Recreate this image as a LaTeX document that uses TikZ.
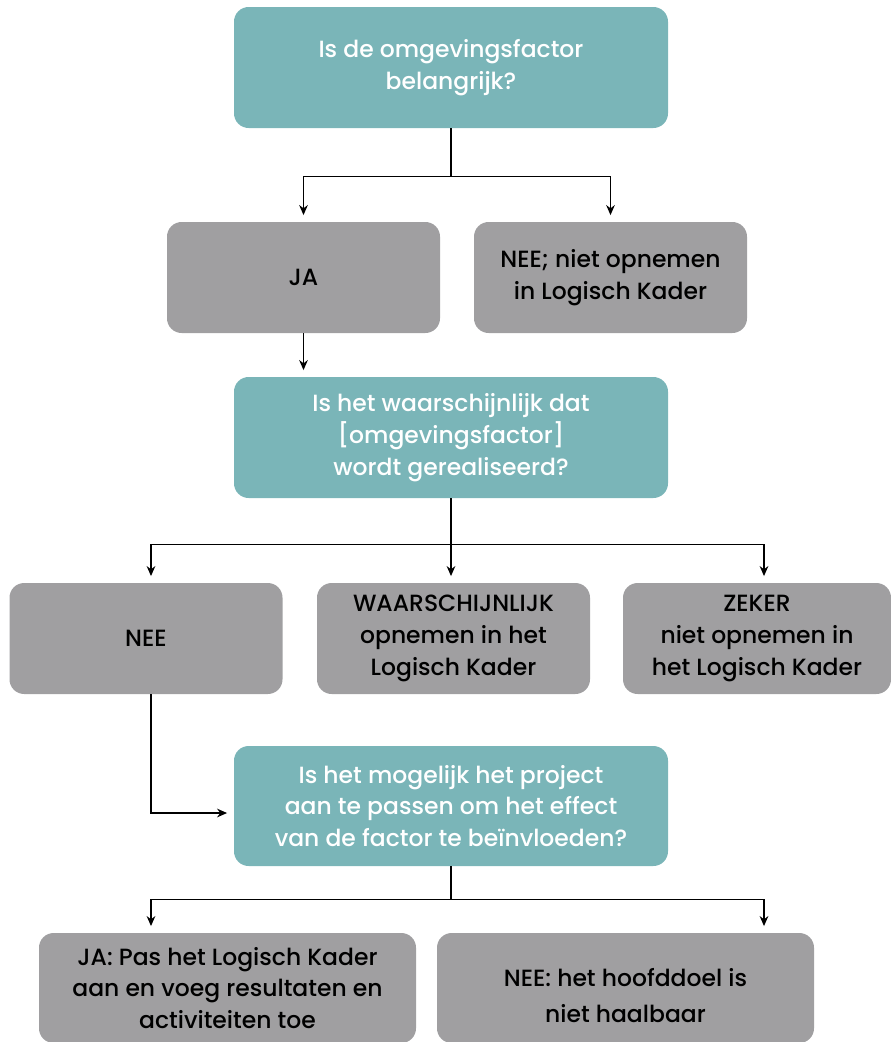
\documentclass[tikz,border=0pt]{standalone}
\usepackage{fontspec}
\setmainfont{Poppins}[UprightFont={* Medium}]
\usetikzlibrary{arrows.meta}
\definecolor{boxteal}{HTML}{7AB5B8}
\definecolor{boxgray}{HTML}{A09FA1}
\begin{document}
\begin{tikzpicture}[x=0.75pt,y=-0.75pt,
  box/.style={rounded corners=11pt, inner sep=0pt, align=center,
    font=\fontsize{17.6}{23.8}\selectfont},
  question/.style={box, fill=boxteal, text=white,
    minimum width=325.5pt, minimum height=90.75pt},
  answer/.style={box, fill=boxgray, text=black},
  small/.style={minimum width=204.75pt, minimum height=83.25pt},
  wide/.style={minimum width=282.75pt, minimum height=82.5pt},
  line/.style={line width=1pt},
  link/.style={line, -{Stealth[length=7.5pt,width=6.5pt]}, shorten >=5pt}]
\useasboundingbox (0,0) rectangle (890,1042);

% column guides for the outer arrows
\coordinate (colL) at (151,0);
\coordinate (colR) at (764,0);

% nodes
\node[question] (q1) at (451,67.5) {Is de omgevingsfactor\\belangrijk?};
\node[answer, small] (ja1) at (303.5,277.5) {JA};
\node[answer, small] (nee1) at (610.5,277.5) {NEE; niet opnemen\\in Logisch Kader};
\node[question] (q2) at (451,437.5) {Is het waarschijnlijk dat\\{}[omgevingsfactor]\\wordt gerealiseerd?};
\node[answer, small] (nee2) at (146,638.5) {NEE};
\node[answer, small] (waar) at (453.5,638.5) {WAARSCHIJNLIJK\\opnemen in het\\Logisch Kader};
\node[answer, small, minimum width=201pt] (zeker) at (757,638.5) {ZEKER\\niet opnemen in\\het Logisch Kader};
\node[question, minimum height=90pt] (q3) at (451,806) {Is het mogelijk het project\\aan te passen om het effect\\van de factor te beïnvloeden?};
\node[answer, wide] (ja2) at (227.5,988) {JA: Pas het Logisch Kader\\aan en voeg resultaten en\\activiteiten toe};
\node[answer, wide] (nee3) at (625.5,988) {\rule{0pt}{25pt}NEE: het hoofddoel is\\[3pt]niet haalbaar};

% connectors, first question
\draw[line] (q1.south) -- ++(0,48) coordinate (j1);
\draw[link] (j1) -| (ja1.north);
\draw[link] (j1) -| (nee1.north);
\draw[link] (ja1.south) -- (ja1.south |- q2.north);

% connectors, second question
\draw[line] (q2.south) -- ++(0,46) coordinate (j2);
\draw[link] (j2) -| (nee2.north -| colL);
\draw[link] (j2) -- (j2 |- waar.north);
\draw[link] (j2) -| (zeker.north -| colR);
\draw[link] (nee2.south -| colL) |- ([yshift=-5.25pt]q3.west);

% connectors, third question
\draw[line] (q3.south) -- ++(0,33) coordinate (j3);
\draw[link] (j3) -| (ja2.north -| colL);
\draw[link] (j3) -| (nee3.north -| colR);
\end{tikzpicture}
\end{document}
